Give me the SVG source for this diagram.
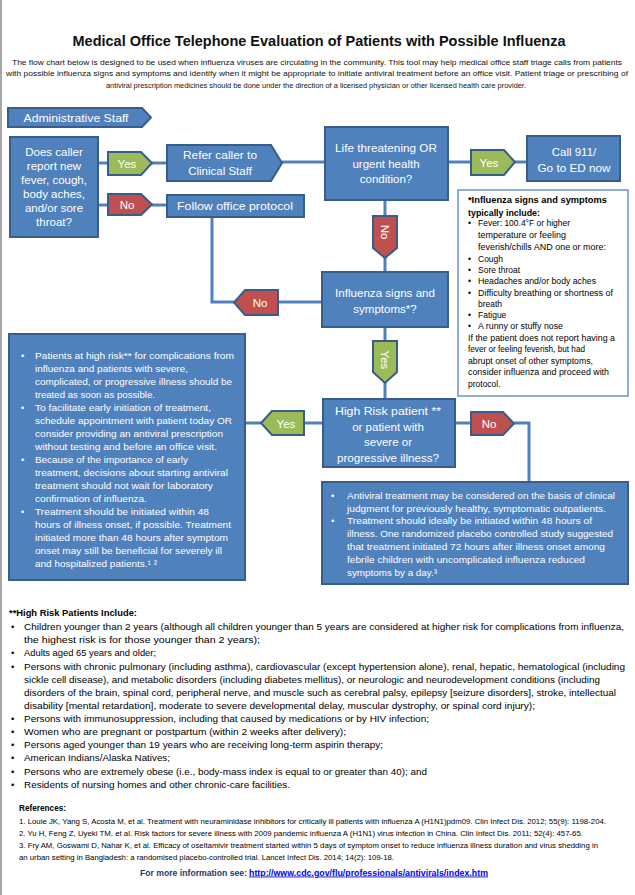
<svg xmlns="http://www.w3.org/2000/svg" width="635" height="895" viewBox="0 0 635 895">
<style>
text{font-family:"Liberation Sans",Arial,sans-serif}
.box{fill:#4f81bd;stroke:#385d8a;stroke-width:2}
.yes{fill:#9bbb59;stroke:#385d8a;stroke-width:2}
.no{fill:#c0504d;stroke:#385d8a;stroke-width:2}
.conn{stroke:#4f81bd;stroke-width:3;fill:none}
.lbl{fill:#fff;font-size:11.5px;text-anchor:middle}
.wt{fill:#fff;font-size:9.5px}
.note{fill:#000;font-size:8.5px}
.hr{fill:#000;font-size:9.5px}
.ref{fill:#000;font-size:7.2px}
</style>
<rect x="0" y="0" width="635" height="895" fill="#fff"/>
<line x1="1" y1="0" x2="1" y2="895" stroke="#a6a6a6" stroke-width="2"/>

<g id="header">
<text x="319" y="46" font-size="15.5" font-weight="bold" text-anchor="middle" fill="#111" textLength="493" lengthAdjust="spacingAndGlyphs">Medical Office Telephone Evaluation of Patients with Possible Influenza</text>
<text x="317" y="65" font-size="8" text-anchor="middle" fill="#111" textLength="610" lengthAdjust="spacingAndGlyphs">The flow chart below is designed to be used when influenza viruses are circulating in the community.  This tool may help medical office staff triage calls from patients</text>
<text x="317" y="76" font-size="8" text-anchor="middle" fill="#111" textLength="622" lengthAdjust="spacingAndGlyphs">with possible influenza signs and symptoms and identify when it might be appropriate to initiate antiviral treatment before an office visit.  Patient triage or prescribing of</text>
<text x="316" y="88" font-size="8" text-anchor="middle" fill="#111" textLength="420" lengthAdjust="spacingAndGlyphs">antiviral prescription medicines should be done under the direction of a licensed physician or other licensed health care provider.</text>
</g>

<g id="connectors">
<line class="conn" x1="98" y1="163" x2="108" y2="163"/>
<line class="conn" x1="152" y1="163" x2="167" y2="163"/>
<line class="conn" x1="282" y1="162" x2="325" y2="162"/>
<line class="conn" x1="98" y1="205" x2="108" y2="205"/>
<line class="conn" x1="152" y1="205" x2="167" y2="205"/>
<polyline class="conn" points="212,217 212,302 234,302"/>
<line class="conn" x1="278" y1="302" x2="322" y2="302"/>
<line class="conn" x1="448" y1="162" x2="471" y2="162"/>
<line class="conn" x1="515" y1="162" x2="527" y2="162"/>
<line class="conn" x1="385" y1="200" x2="385" y2="216"/>
<line class="conn" x1="385" y1="257" x2="385" y2="272"/>
<line class="conn" x1="385" y1="327" x2="385" y2="341"/>
<line class="conn" x1="385" y1="382" x2="385" y2="399"/>
<line class="conn" x1="323" y1="423" x2="304" y2="423"/>
<line class="conn" x1="261" y1="423" x2="245" y2="423"/>
<line class="conn" x1="455" y1="423" x2="471" y2="423"/>
<polyline class="conn" points="514,423 529,423 529,482"/>
</g>

<g id="admin-staff">
<polygon class="box" points="8,108 142,108 151,117.5 142,127 8,127"/>
<text class="lbl" x="76" y="122" textLength="105" lengthAdjust="spacingAndGlyphs">Administrative Staff</text>
</g>

<g id="does-caller">
<rect class="box" x="10" y="137" width="88" height="100"/>
<text class="lbl" x="54" y="156">Does caller</text>
<text class="lbl" x="54" y="170">report new</text>
<text class="lbl" x="54" y="184">fever, cough,</text>
<text class="lbl" x="54" y="198">body aches,</text>
<text class="lbl" x="54" y="212">and/or sore</text>
<text class="lbl" x="54" y="226">throat?</text>
</g>

<g id="yes-1">
<polygon class="yes" points="108,152 141,152 152,163 141,175 108,175"/>
<text class="lbl" x="127" y="168">Yes</text>
</g>

<g id="no-1">
<polygon class="no" points="108,194 141,194 152,204.5 141,215 108,215"/>
<text class="lbl" x="127" y="209">No</text>
</g>

<g id="refer-clinical">
<polygon class="box" points="167,145 271,145 282,163 271,181 167,181"/>
<text class="lbl" x="220" y="159" textLength="74" lengthAdjust="spacingAndGlyphs">Refer caller to</text>
<text class="lbl" x="220" y="175">Clinical Staff</text>
</g>

<g id="follow-protocol">
<rect class="box" x="167" y="195" width="137" height="22"/>
<text class="lbl" x="235" y="210" textLength="116" lengthAdjust="spacingAndGlyphs">Follow office protocol</text>
</g>

<g id="life-threatening">
<rect class="box" x="325" y="127" width="123" height="73"/>
<text class="lbl" x="386" y="152" textLength="102" lengthAdjust="spacingAndGlyphs">Life threatening OR</text>
<text class="lbl" x="386" y="167.5">urgent health</text>
<text class="lbl" x="386" y="183">condition?</text>
</g>

<g id="yes-2">
<polygon class="yes" points="471,150 504,150 515,162 504,175 471,175"/>
<text class="lbl" x="489" y="166.5">Yes</text>
</g>

<g id="call-911">
<rect class="box" x="527" y="136" width="93" height="45"/>
<text class="lbl" x="574" y="155.5">Call 911/</text>
<text class="lbl" x="574" y="171.5" textLength="73" lengthAdjust="spacingAndGlyphs">Go to ED now</text>
</g>

<g id="no-2">
<polygon class="no" points="373,216 397,216 397,248 385,258 373,248"/>
<text class="lbl" x="385" y="236" transform="rotate(90 385 232)">No</text>
</g>

<g id="influenza-signs">
<rect class="box" x="322" y="272" width="126" height="55"/>
<text class="lbl" x="385" y="297" textLength="100" lengthAdjust="spacingAndGlyphs">Influenza signs and</text>
<text class="lbl" x="385" y="313">symptoms*?</text>
</g>

<g id="no-3">
<polygon class="no" points="278,290 245,290 234,302.5 245,315 278,315"/>
<text class="lbl" x="260" y="307">No</text>
</g>

<g id="yes-3">
<polygon class="yes" points="373,341 397,341 397,372 385,383 373,372"/>
<text class="lbl" x="385" y="364" transform="rotate(90 385 360)">Yes</text>
</g>

<g id="high-risk">
<rect class="box" x="323" y="399" width="132" height="68"/>
<text class="lbl" x="388" y="415" textLength="106" lengthAdjust="spacingAndGlyphs">High Risk patient **</text>
<text class="lbl" x="388" y="430.5">or patient with</text>
<text class="lbl" x="388" y="446">severe or</text>
<text class="lbl" x="388" y="462" textLength="102" lengthAdjust="spacingAndGlyphs">progressive illness?</text>
</g>

<g id="yes-4">
<polygon class="yes" points="304,411 272,411 261,423 272,435 304,435"/>
<text class="lbl" x="286" y="427.5">Yes</text>
</g>

<g id="no-4">
<polygon class="no" points="471,412 503,412 514,423.5 503,435 471,435"/>
<text class="lbl" x="489" y="428">No</text>
</g>

<g id="signs-note">
<rect x="458" y="190" width="170" height="206" fill="#fff" stroke="#6f93c6" stroke-width="1.5"/>
<text class="note" x="468" y="203" font-size="10" font-weight="bold" textLength="139" lengthAdjust="spacingAndGlyphs">*Influenza signs and symptoms</text>
<text class="note" x="468" y="215.5" font-size="10" font-weight="bold" textLength="72" lengthAdjust="spacingAndGlyphs">typically include:</text>
<g class="note">
<text x="468" y="226">•</text><text x="478" y="226" textLength="92" lengthAdjust="spacingAndGlyphs">Fever: 100.4°F or higher</text>
<text x="478" y="238" textLength="88" lengthAdjust="spacingAndGlyphs">temperature or feeling</text>
<text x="478" y="250" textLength="128" lengthAdjust="spacingAndGlyphs">feverish/chills AND one or more:</text>
<text x="468" y="262">•</text><text x="478" y="262">Cough</text>
<text x="468" y="273">•</text><text x="478" y="273">Sore throat</text>
<text x="468" y="284">•</text><text x="478" y="284" textLength="118" lengthAdjust="spacingAndGlyphs">Headaches and/or body aches</text>
<text x="468" y="295.5">•</text><text x="478" y="295.5" textLength="135" lengthAdjust="spacingAndGlyphs">Difficulty breathing or shortness of</text>
<text x="478" y="307">breath</text>
<text x="468" y="318">•</text><text x="478" y="318">Fatigue</text>
<text x="468" y="329">•</text><text x="478" y="329" textLength="85" lengthAdjust="spacingAndGlyphs">A runny or stuffy nose</text>
<text x="468" y="340.5" textLength="147" lengthAdjust="spacingAndGlyphs">If the patient does not report having a</text>
<text x="468" y="352" textLength="117" lengthAdjust="spacingAndGlyphs">fever or feeling feverish, but had</text>
<text x="468" y="363.5" textLength="125" lengthAdjust="spacingAndGlyphs">abrupt onset of other symptoms,</text>
<text x="468" y="375" textLength="141" lengthAdjust="spacingAndGlyphs">consider influenza and proceed with</text>
<text x="468" y="386.5">protocol.</text>
</g>
</g>

<g id="treat-now">
<rect class="box" x="9" y="334" width="236" height="246"/>
<g class="wt">
<text x="21" y="359">•</text><text x="35" y="359" textLength="199" lengthAdjust="spacingAndGlyphs">Patients at high risk** for complications from</text>
<text x="35" y="372" textLength="153" lengthAdjust="spacingAndGlyphs">influenza and patients with severe,</text>
<text x="35" y="385" textLength="197" lengthAdjust="spacingAndGlyphs">complicated, or progressive illness should be</text>
<text x="35" y="398" textLength="120" lengthAdjust="spacingAndGlyphs">treated as soon as possible.</text>
<text x="21" y="411">•</text><text x="35" y="411" textLength="176" lengthAdjust="spacingAndGlyphs">To facilitate early initiation of treatment,</text>
<text x="35" y="424" textLength="197" lengthAdjust="spacingAndGlyphs">schedule appointment with patient today OR</text>
<text x="35" y="437" textLength="188" lengthAdjust="spacingAndGlyphs">consider providing an antiviral prescription</text>
<text x="35" y="450" textLength="182" lengthAdjust="spacingAndGlyphs">without testing and before an office visit.</text>
<text x="21" y="463">•</text><text x="35" y="463" textLength="153" lengthAdjust="spacingAndGlyphs">Because of the importance of early</text>
<text x="35" y="476" textLength="193" lengthAdjust="spacingAndGlyphs">treatment, decisions about starting antiviral</text>
<text x="35" y="489" textLength="178" lengthAdjust="spacingAndGlyphs">treatment should not wait for laboratory</text>
<text x="35" y="502" textLength="112" lengthAdjust="spacingAndGlyphs">confirmation of influenza.</text>
<text x="21" y="515">•</text><text x="35" y="515" textLength="174" lengthAdjust="spacingAndGlyphs">Treatment should be initiated within 48</text>
<text x="35" y="528" textLength="196" lengthAdjust="spacingAndGlyphs">hours of illness onset,  if possible. Treatment</text>
<text x="35" y="541" textLength="193" lengthAdjust="spacingAndGlyphs">initiated more than 48 hours after symptom</text>
<text x="35" y="554" textLength="187" lengthAdjust="spacingAndGlyphs">onset may still be beneficial for severely ill</text>
<text x="35" y="567" textLength="122" lengthAdjust="spacingAndGlyphs">and hospitalized patients.¹ ²</text>
</g>
</g>

<g id="consider-treatment">
<rect class="box" x="322" y="482" width="306" height="102"/>
<g class="wt">
<text x="331" y="498.5">•</text><text x="347" y="498.5" textLength="268" lengthAdjust="spacingAndGlyphs">Antiviral treatment may be considered on the basis of clinical</text>
<text x="347" y="511.5" textLength="259" lengthAdjust="spacingAndGlyphs">judgment for previously healthy, symptomatic outpatients.</text>
<text x="331" y="524">•</text><text x="347" y="524" textLength="245" lengthAdjust="spacingAndGlyphs">Treatment should ideally be initiated within 48 hours of</text>
<text x="347" y="537" textLength="266" lengthAdjust="spacingAndGlyphs">illness.  One randomized placebo controlled study suggested</text>
<text x="347" y="550" textLength="258" lengthAdjust="spacingAndGlyphs">that treatment initiated 72 hours after illness onset among</text>
<text x="347" y="562.5" textLength="238" lengthAdjust="spacingAndGlyphs">febrile children with uncomplicated influenza reduced</text>
<text x="347" y="575.5" textLength="90" lengthAdjust="spacingAndGlyphs">symptoms by a day.³</text>
</g>
</g>

<g id="high-risk-list" class="hr">
<text x="9" y="616" font-weight="bold" textLength="128" lengthAdjust="spacingAndGlyphs">**High Risk Patients Include:</text>
<text x="11" y="630">•</text><text x="24" y="630" textLength="600" lengthAdjust="spacingAndGlyphs">Children younger than 2 years (although all children younger than 5 years are considered at higher risk for complications from influenza,</text>
<text x="24" y="643" textLength="236" lengthAdjust="spacingAndGlyphs">the highest risk is for those younger than 2 years);</text>
<text x="11" y="656">•</text><text x="24" y="656" textLength="132" lengthAdjust="spacingAndGlyphs">Adults aged 65 years and older;</text>
<text x="11" y="669.5">•</text><text x="24" y="669.5" textLength="601" lengthAdjust="spacingAndGlyphs">Persons with chronic pulmonary (including asthma), cardiovascular (except hypertension alone), renal, hepatic, hematological (including</text>
<text x="24" y="682.5" textLength="576" lengthAdjust="spacingAndGlyphs">sickle cell disease), and metabolic disorders (including diabetes mellitus), or neurologic and neurodevelopment conditions (including</text>
<text x="24" y="695.5" textLength="592" lengthAdjust="spacingAndGlyphs">disorders of the brain, spinal cord, peripheral nerve, and muscle such as cerebral palsy, epilepsy [seizure disorders], stroke, intellectual</text>
<text x="24" y="708.5" textLength="511" lengthAdjust="spacingAndGlyphs">disability [mental retardation], moderate to severe developmental delay, muscular dystrophy, or spinal cord injury);</text>
<text x="11" y="721.5">•</text><text x="24" y="721.5" textLength="405" lengthAdjust="spacingAndGlyphs">Persons with immunosuppression, including that caused by medications or by HIV infection;</text>
<text x="11" y="735">•</text><text x="24" y="735" textLength="322" lengthAdjust="spacingAndGlyphs">Women who are pregnant or postpartum (within 2 weeks after delivery);</text>
<text x="11" y="748">•</text><text x="24" y="748" textLength="359" lengthAdjust="spacingAndGlyphs">Persons aged younger than 19 years who are receiving long-term aspirin therapy;</text>
<text x="11" y="761">•</text><text x="24" y="761" textLength="146" lengthAdjust="spacingAndGlyphs">American Indians/Alaska Natives;</text>
<text x="11" y="774.5">•</text><text x="24" y="774.5" textLength="403" lengthAdjust="spacingAndGlyphs">Persons who are extremely obese (i.e., body-mass index is equal to or greater than 40); and</text>
<text x="11" y="787.5">•</text><text x="24" y="787.5" textLength="266" lengthAdjust="spacingAndGlyphs">Residents of nursing homes and other chronic-care facilities.</text>
</g>

<g id="references" class="ref">
<text x="19" y="811" font-size="8.5" font-weight="bold" textLength="47" lengthAdjust="spacingAndGlyphs">References:</text>
<text x="19" y="823.5" textLength="587" lengthAdjust="spacingAndGlyphs">1. Louie JK, Yang S, Acosta M, et al. Treatment with neuraminidase inhibitors for critically ill patients with influenza A (H1N1)pdm09. Clin Infect Dis. 2012; 55(9): 1198-204.</text>
<text x="19" y="835.5" textLength="564" lengthAdjust="spacingAndGlyphs">2. Yu H, Feng Z, Uyeki TM, et al. Risk factors for severe illness with 2009 pandemic influenza A (H1N1) virus infection in China. Clin Infect Dis. 2011; 52(4): 457-65.</text>
<text x="19" y="847.5" textLength="579" lengthAdjust="spacingAndGlyphs">3. Fry AM, Goswami D, Nahar K, et al. Efficacy of oseltamivir treatment started within 5 days of symptom onset to reduce influenza illness duration and virus shedding in</text>
<text x="19" y="859.5" textLength="375" lengthAdjust="spacingAndGlyphs">an urban setting in Bangladesh: a randomised placebo-controlled trial. Lancet Infect Dis. 2014; 14(2): 109-18.</text>
</g>

<g id="more-info">
<text x="140" y="875.5" font-size="9" font-weight="bold" fill="#1f3864" textLength="107" lengthAdjust="spacingAndGlyphs">For more information see:</text>
<text x="249" y="875.5" font-size="9" font-weight="bold" fill="#0000ee" text-decoration="underline" textLength="239" lengthAdjust="spacingAndGlyphs">http://www.cdc.gov/flu/professionals/antivirals/index.htm</text>
</g>
</svg>
